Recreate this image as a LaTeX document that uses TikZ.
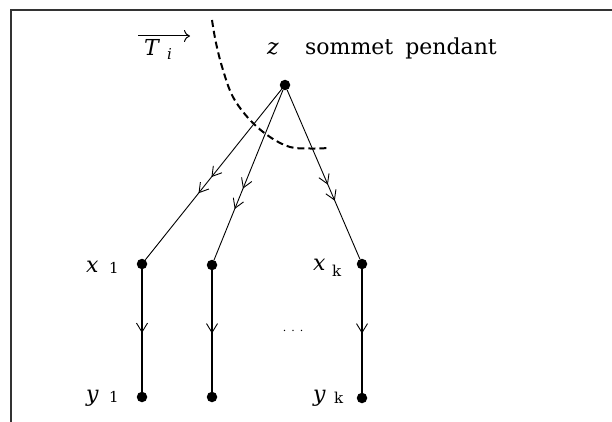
\documentclass[tikz,border=0pt]{standalone}
\usepackage{fontspec}
\setmainfont{DejaVu Serif}
\usetikzlibrary{arrows.meta,decorations.markings}
\tikzset{chevtip/.tip={Straight Barb[length=9pt,width=11pt,line width=0.9pt]}}
\begin{document}
\begin{tikzpicture}[x=1pt,y=-1pt,
  vtx/.style={circle,fill=black,inner sep=0pt,minimum size=10.5pt},
  edge/.style={line width=0.9pt},
  vedge/.style={line width=1.6pt},
  twochev/.style 2 args={decoration={markings,
      mark=at position #1 with {\arrow{chevtip}},
      mark=at position #2 with {\arrow{chevtip}}}, postaction={decorate}},
  onechev/.style={decoration={markings,
      mark=at position #1 with {\arrow{chevtip}}}, postaction={decorate}},
  lbl/.style={inner sep=0pt,font=\fontsize{22}{24}\selectfont},
  sub/.style={inner sep=0pt,font=\fontsize{15}{17}\selectfont}
]
\useasboundingbox (0,0) rectangle (612,422);
\draw[line width=2.4pt, black!80] (11,422) -- (11,10) -- (612,10);

% dashed cut
\draw[line width=2pt, dash pattern=on 7pt off 4pt]
  plot[smooth, tension=0.6] coordinates {(212,20) (216,43) (223,70) (233,97) (250,120) (270,137) (290,147) (310,148.5) (330,148)};

% vertices
\node[vtx] (z)  at (285,85) {};
\node[vtx] (x1) at (142,264) {};
\node[vtx] (x2) at (212,265) {};
\node[vtx] (xk) at (362,264) {};
\node[vtx] (y1) at (142,397) {};
\node[vtx] (y2) at (212,397) {};
\node[vtx] (yk) at (362,398) {};

% edges
\draw[edge, twochev={0.515}{0.61}] (z) -- (x1);
\draw[edge, twochev={0.58}{0.70}] (z) -- (x2);
\draw[edge, twochev={0.56}{0.655}] (z) -- (xk);
\draw[vedge, onechev=0.52] (x1) -- (y1);
\draw[vedge, onechev=0.52] (x2) -- (y2);
\draw[vedge, onechev=0.52] (xk) -- (yk);

% labels
\node[lbl, anchor=base west] (lz) at (267,55) {\itshape z};
\node[lbl, anchor=base west] (sp) at (305,55) {sommet\hspace{5pt} pendant};
\node[lbl, anchor=base west] (lT) at (144,56) {\itshape T};
\node[sub, anchor=base west] (lTi) at (167,60) {\itshape i};
\coordinate (ta) at (138,36);
\coordinate (tb) at (190,36);
\draw[line width=1pt, -{To[length=6pt,width=12pt]}] (ta) -- (tb);

\node[lbl, anchor=base west] (lx1) at (86,272) {\itshape x};
\node[sub, anchor=base west] (lx1s) at (109,273) {1};
\node[lbl, anchor=base west] (ly1) at (86,401) {\itshape y};
\node[sub, anchor=base west] (ly1s) at (109,402) {1};
\node[lbl, anchor=base west] (lxk) at (313,270) {\itshape x};
\node[sub, anchor=base west] (lxks) at (332,276) {k};
\node[lbl, anchor=base west] (lyk) at (313,401) {\itshape y};
\node[sub, anchor=base west] (lyks) at (334,403) {k};

\node[inner sep=0pt, font=\fontsize{11}{11}\selectfont] (dots) at (293,331) {.\hspace{5pt}.\hspace{5pt}.};
\end{tikzpicture}
\end{document}
